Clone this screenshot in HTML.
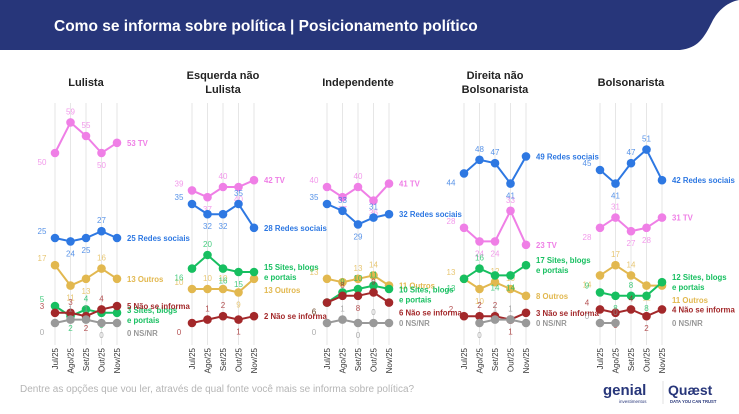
<!DOCTYPE html>
<html><head><meta charset="utf-8">
<style>
body{margin:0;width:739px;height:414px;overflow:hidden;background:#fff;font-family:"Liberation Sans",sans-serif;}
svg{display:block}
</style></head>
<body>
<svg id="chart" width="739" height="414">
  <path d="M0,0 H739 V0 C728,2 718,10 712,22 C704,38 698,48 680,50 H0 Z" fill="#27367a"/>
  <text x="54" y="31" fill="#fff" font-size="15.5" font-weight="bold">Como se informa sobre política | Posicionamento político</text>
  <text x="20" y="392" fill="#b5b5b5" font-size="10">Dentre as opções que vou ler, através de qual fonte você mais se informa sobre política?</text>
  <g>
    <text x="603" y="395" fill="#27367a" font-size="15" font-weight="bold">genial</text>
    <text x="619" y="403" fill="#27367a" font-size="4.5">investimentos</text>
  </g>
  <line x1="663" y1="381" x2="663" y2="404" stroke="#ccc" stroke-width="0.6"/>
  <g>
    <text x="668" y="395" fill="#27367a" font-size="14" font-weight="bold">Quæst</text>
    <text x="670" y="403" fill="#27367a" font-size="4.2" font-weight="bold">DATA YOU CAN TRUST</text>
  </g>
</svg>
<script>
const months = ["Jul/25","Ago/25","Set/25","Out/25","Nov/25"];
const panelTitles = [["Lulista"],["Esquerda não","Lulista"],["Independente"],["Direita não","Bolsonarista"],["Bolsonarista"]];
const seriesNames = ["TV","Redes sociais","Outros","Sites, blogs e portais","Não se informa","NS/NR"];
const tvValues      = [[50,59,55,50,53],[39,37,40,40,42],[40,37,40,36,41],[28,24,24,33,23],[28,31,27,28,31]];
const redesValues   = [[25,24,25,27,25],[35,32,32,35,28],[35,33,29,31,32],[44,48,47,41,49],[45,41,47,51,42]];
const outrosValues  = [[17,11,13,16,13],[10,10,10,9,13],[13,12,13,14,11],[13,10,12,10,8],[14,17,14,11,11]];
const sitesValues   = [[5,2,4,3,3],[16,20,16,15,15],[6,9,10,11,10],[13,16,14,14,17],[9,8,8,8,12]];
const naoValues     = [[3,3,2,4,5],[0,1,2,1,2],[6,8,8,9,6],[2,2,2,1,3],[4,3,4,2,4]];
const nsnrValues    = [[0,1,1,0,0],[null,null,null,null,null],[0,1,0,0,0],[null,0,1,1,0],[0,0,null,null,null]];
const colors = ["#ef7fe6","#2e78e2","#e2b84f","#17bf60","#a3282a","#999999"];

const svg = document.getElementById('chart');
const NS = "http://www.w3.org/2000/svg";
const panelX0 = [55,192,327,464,600];
const step = 15.5;
const yScale = v => 323 - 3.4*v;
const xScale = (p,i) => panelX0[p] + i*step;
function mk(tag, attrs, parent){const e=document.createElementNS(NS,tag);for(const k in attrs)e.setAttribute(k,attrs[k]);(parent||svg).appendChild(e);return e;}

const allSeries = [tvValues,redesValues,outrosValues,sitesValues,naoValues,nsnrValues];
for(let p=0;p<5;p++){
  const g = mk('g',{});
  
  
  panelTitles[p].forEach((t,k)=>{
    const ty = panelTitles[p].length===1 ? 86 : 79 + k*14;
    const tt = mk('text',{x:xScale(p,2),y:ty,'text-anchor':'middle','font-size':'11','font-weight':'bold',fill:'#222'},g);
    
    
    tt.textContent=t;
  });
  for(let i=0;i<5;i++){
    const gl = mk('line',{x1:xScale(p,i),x2:xScale(p,i),y1:103,y2:345,stroke:'#e6e6e6','stroke-width':1},g);
    
    
    const ml = mk('text',{x:0,y:0,'font-size':'8','fill':'#333','text-anchor':'end',transform:`translate(${xScale(p,i)+3},348) rotate(-90)`},g);
    
    
    ml.textContent=months[i];
  }
  const ends=[];
  allSeries.forEach((arr,s)=>{
    const vals=arr[p];
    let last=null;for(let i=4;i>=0;i--) if(vals[i]!==null){last=vals[i];break;}
    if(last===null) return;
    ends.push({s,y:yScale(last),v:last});
  });
  ends.sort((a,b)=>a.y-b.y);
  for(let k=1;k<ends.length;k++){const need=ends[k-1].s===3?18:9; if(ends[k].y-ends[k-1].y<need) ends[k].y=ends[k-1].y+need;}
  allSeries.forEach((arr,s)=>{
    const vals=arr[p];
    const sg = mk('g',{},g);
    
    
    let d='';
    vals.forEach((v,i)=>{ if(v===null) return; d+=(d?'L':'M')+xScale(p,i)+','+yScale(v); });
    if(!d) return;
    const ln = mk('path',{d,fill:'none',stroke:colors[s],'stroke-width':2},sg);
    
    
    vals.forEach((v,i)=>{
      if(v===null) return;
      const c = mk('circle',{cx:xScale(p,i),cy:yScale(v),r:4.3,fill:colors[s]},sg);
      
      
      if(i<4){
        const prev = i>0&&vals[i-1]!==null?vals[i-1]:v, next = vals[i+1]!==null?vals[i+1]:v;
        const above = v >= (prev+next)/2;
        const lx = i===0 ? xScale(p,i)-13 : xScale(p,i);
        const ly = i===0 ? yScale(v)+(above?-4:12) : yScale(v)+(above?-8:15);
        const t = mk('text',{x:lx,y:ly,'text-anchor':'middle','font-size':'8',fill:colors[s],opacity:0.8},sg);
        
        
        t.textContent=v;
      }
    });
    const e = ends.find(o=>o.s===s);
    const lx = xScale(p,4)+10;
    const et = mk('text',{x:lx,y:e.y+3,'font-size':'7.8','font-weight':'bold',fill:colors[s]},sg);
    
    
    if(s===3){
      et.setAttribute('y',e.y-2);
      et.textContent=e.v+' Sites, blogs';
      const et2 = mk('text',{x:lx,y:e.y+8,'font-size':'7.8','font-weight':'bold',fill:colors[s]},sg);
      
      
      et2.textContent='e portais';
    } else {
      et.textContent=e.v+' '+seriesNames[s];
    }
  });
}
</script>
</body></html>
